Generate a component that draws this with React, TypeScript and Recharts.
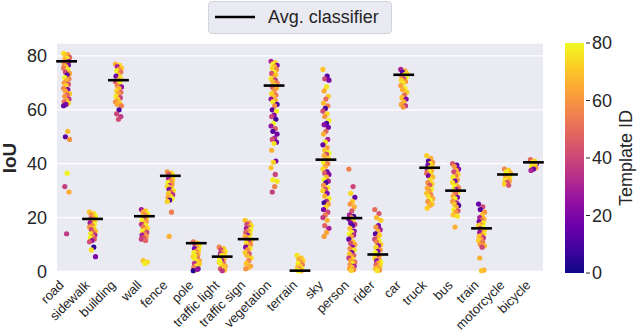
import React from 'react';
import { ScatterChart, Scatter, XAxis, YAxis, CartesianGrid, Legend } from 'recharts';

const FONT = '"Liberation Sans", Arial, Helvetica, sans-serif';
const TEXT = '#262626';

const categories = ['road', 'sidewalk', 'building', 'wall', 'fence', 'pole', 'traffic light', 'traffic sign', 'vegetation', 'terrain', 'sky', 'person', 'rider', 'car', 'truck', 'bus', 'train', 'motorcycle', 'bicycle'];
const avgClassifier = [78, 19.5, 71, 20.5, 35.5, 10.5, 5.5, 12, 69, 0.3, 41.5, 19.8, 6.3, 73, 38.5, 30, 16, 36, 40.5];
const yTicks = [0, 20, 40, 60, 80];
const colorbarTicks = [0, 20, 40, 60, 80];

// [IoU, template ID]
const road = [[81,75],[80.5,62],[80,70],[79.5,48],[79,78],[78.5,66],[78,30],[77.5,72],[77,58],[76.5,18],[76,69],[75.5,52],[75,77],[74,40],[73.5,64],[73,12],[72,80],[71.5,55],[71,67],[70,61],[69.5,44],[69,73],[68,57],[67.5,20],[67,63],[66,70],[65.5,46],[65,59],[64,35],[63.5,66],[63,50],[62.5,74],[62,22],[61.5,15],[52,68],[50,14],[49,60],[36.5,79],[31.5,38],[29.5,65],[14,36]];
const sidewalk = [[22,70],[21.5,76],[21,58],[20.5,79],[20,64],[19.5,45],[19,73],[18.5,67],[18,28],[17.5,78],[17,55],[16.5,62],[16,74],[15.5,40],[15,69],[14.5,50],[14,77],[13.5,33],[13,60],[12.5,80],[12,47],[11.5,25],[11,42],[9,5],[8,76],[5.5,20]];
const building = [[77,66],[76.5,74],[76,30],[75.5,71],[75,60],[74.5,78],[74,52],[73,69],[72.5,16],[72,75],[71,62],[70.5,44],[70,79],[69,57],[68.5,24],[68,67],[67,73],[66.5,50],[66,63],[65,77],[64.5,38],[64,70],[63,59],[62.5,72],[62,65],[61.5,55],[60,10],[58.5,40],[57.5,36],[56.5,42]];
const wall = [[23,28],[22.5,72],[22,64],[21.5,78],[21,55],[20.5,68],[20,75],[19.5,46],[19,80],[18.5,60],[18,70],[17.5,35],[17,77],[16.5,52],[16,74],[15.5,66],[15,79],[14.5,40],[14,58],[13.5,30],[13,62],[12.5,45],[12,38],[11.5,48],[4,70],[3.5,74],[3,78]];
const fence = [[37,60],[36.5,74],[36,45],[35.5,78],[35,66],[34.5,30],[34,71],[33.5,56],[33,79],[32.5,62],[32,40],[31.5,75],[31,68],[30.5,20],[30,77],[29.5,50],[29,70],[28.5,35],[28,72],[27.5,64],[27,80],[26.5,12],[26,73],[22,54],[13,66]];
const pole = [[11,52],[10.5,70],[10,40],[9.5,77],[9,62],[8.5,18],[8,74],[7.5,58],[7,79],[6.5,66],[6,30],[5.5,72],[5,48],[4.5,78],[4,64],[3.5,75],[3,35],[2.5,69],[2,80],[1.5,56],[1,10],[0.5,73],[0.3,4],[0.8,25],[6,76],[3,71]];
const trafficLight = [[9,55],[8.5,70],[8,40],[7.5,77],[7,64],[6.5,30],[6,74],[5.5,58],[5,79],[4.5,66],[4,22],[3.5,72],[3,50],[2.5,78],[2,62],[1.5,75],[1,45],[0.5,68],[0.3,35],[4,80],[2,70],[6,76]];
const trafficSign = [[19,70],[18,62],[17.5,40],[17,75],[16.5,55],[16,30],[15.5,78],[15,60],[14.5,48],[14,73],[13.5,25],[13,66],[12.5,79],[12,52],[11.5,70],[11,36],[10.5,76],[10,58],[9.5,64],[9,20],[8.5,77],[8,60],[7,72],[6.5,45],[6,68],[5,74],[4,56],[3,70],[2,64],[1.5,66],[1,60]];
const vegetation = [[78,30],[77.5,72],[77,78],[76.5,20],[76,66],[75.5,74],[75,58],[74,79],[73.5,44],[73,70],[72,62],[71.5,76],[71,35],[70.5,68],[70,55],[69,73],[68.5,48],[68,65],[67,60],[66,74],[65.5,52],[65,70],[64,25],[63.5,64],[63,77],[62,10],[61.5,58],[60,14],[59.5,78],[58,22],[57.5,40],[56.5,8],[55,80],[54,26],[53,45],[52,12],[51,18],[49.5,30],[49,42],[48,16],[47.5,76],[45,66],[41,20],[40.5,72],[38.5,70],[36,40],[34,78],[33.5,76],[31.5,55],[29.5,38]];
const terrain = [[6,76],[5,70],[4.5,66],[4,74],[3.5,60],[3,78],[2.5,55],[2,72],[1.5,68],[1,79],[0.8,50],[0.5,75],[0.3,64],[0.2,80]];
const sky = [[75,70],[72.5,12],[71.5,40],[71,20],[68.5,76],[67,66],[65,72],[64,50],[62.5,68],[61.5,56],[60.5,10],[59.5,42],[58.5,74],[57.5,60],[56,78],[55,8],[54.5,24],[53.5,18],[52,48],[51,66],[49,30],[48,76],[47,14],[46,62],[45,70],[44,80],[43.5,40],[43,66],[42,72],[41,20],[40.5,78],[40,55],[39,64],[38,74],[37,16],[36.5,45],[36,22],[35,68],[34,80],[33.5,30],[33,10],[32,60],[31,76],[30.5,40],[30,72],[29,20],[28,66],[27,78],[26,30],[25.5,8],[25,62],[24,74],[23,20],[22,40],[21,54],[20,36],[19,66],[17,48],[16,28],[14.5,64],[13,62]];
const person = [[38,55],[31.5,40],[29,74],[27.5,14],[26,70],[25,60],[24,66],[22.5,45],[21,30],[20.5,8],[20,62],[19.5,20],[19,74],[18,18],[17.5,40],[17,12],[16,68],[15,25],[14.5,78],[14,80],[13.5,30],[13,66],[12,16],[11,72],[10.5,42],[10,64],[9,24],[8.5,58],[8,76],[7,20],[6.5,70],[6,46],[5.5,66],[5,36],[4.5,74],[4,62],[3.5,52],[3,78],[2.5,60],[2,32],[1.5,70],[1,64],[0.7,58],[0.4,72]];
const rider = [[23,50],[21.5,44],[20,68],[19,72],[17,18],[16.5,60],[15.5,30],[15,66],[14,12],[13.5,72],[12.5,64],[12,40],[11.5,78],[11,56],[10,70],[9.5,24],[9,74],[8,60],[7.5,20],[7,80],[6,66],[5.5,40],[5,75],[4.5,62],[4,28],[3.5,78],[3,68],[2.5,50],[2,74],[1.5,64],[1,70],[0.5,60],[0.3,76]];
const car = [[75,30],[74.5,66],[74,12],[73.5,72],[73,78],[72.5,56],[72,80],[71.5,40],[71,74],[70.5,60],[70,76],[69,62],[68,78],[67.5,66],[66.5,72],[65.5,50],[64.5,70],[64,22],[63,68],[62,64],[61.5,36],[61,60]];
const truck = [[43,72],[42,66],[41,12],[40.5,60],[40,76],[39.5,18],[39,70],[38.5,78],[38,30],[37.5,64],[37,80],[36.5,52],[36,74],[35.5,20],[35,68],[34,76],[33,58],[32.5,72],[32,44],[31,66],[30.5,78],[30,62],[29,70],[28.5,56],[28,74],[27,64],[26.5,80],[26,60],[25,70],[24.5,66],[23.5,72]];
const bus = [[40,45],[39.5,14],[39,60],[38,22],[37.5,66],[37,40],[36,72],[35.5,54],[35,78],[34,62],[33.5,18],[33,74],[32,68],[31.5,80],[31,56],[30.5,28],[30,70],[29.5,76],[29,50],[28,64],[27.5,20],[27,78],[26,60],[25.5,34],[25,72],[24.5,10],[24,66],[23,79],[22.5,44],[22,62],[21,70],[20.5,76],[16.5,66]];
const train = [[25,16],[24,40],[23,12],[22,60],[21,70],[20,30],[19.5,66],[19,52],[18.5,20],[18,78],[17.5,62],[17,72],[16.5,80],[16,44],[15.5,74],[15,66],[14.5,26],[14,76],[13.5,58],[13,70],[12.5,34],[12,64],[11.5,72],[11,54],[10,60],[9.5,68],[9,40],[5,66],[0.5,66],[0.3,70]];
const motorcycle = [[38,56],[37.5,72],[37,78],[36.5,66],[36,80],[35.5,60],[35,74],[34.5,70],[34,76],[33.5,64],[33,40],[32.5,72],[32,44]];
const bicycle = [[41.5,50],[41,72],[40.5,78],[40,20],[39.5,66],[39,76],[38.5,60],[38,14],[37.5,30],[40,74]];

const groups = [road, sidewalk, building, wall, fence, pole, trafficLight, trafficSign, vegetation, terrain, sky, person, rider, car, truck, bus, train, motorcycle, bicycle];

const pointData = groups.flatMap((g, ci) => g.map(([iou, t], j) => ({ x: ci, y: iou, t, j })));
const avgData = avgClassifier.map((v, i) => ({ x: i, y: v }));

const PLASMA = ['#0d0887', '#41049d', '#6a00a8', '#8f0da4', '#b12a90', '#cc4778', '#e16462', '#f2844b', '#fca636', '#fcce25', '#f0f921'];
function hexToRgb(h: string) {
  return [parseInt(h.slice(1, 3), 16), parseInt(h.slice(3, 5), 16), parseInt(h.slice(5, 7), 16)];
}
function plasma(v: number) {
  const s = Math.max(0, Math.min(1, v / 80)) * 10;
  const i = Math.min(9, Math.floor(s));
  const f = s - i;
  const a = hexToRgb(PLASMA[i]);
  const b = hexToRgb(PLASMA[i + 1]);
  const c = a.map((av, k) => Math.round(av + (b[k] - av) * f));
  return `rgb(${c[0]},${c[1]},${c[2]})`;
}

const jitter = (j: number) => (((j * 7) % 11) / 10 - 0.5) * 6;

const StripDot = (props: any) => {
  const { cx, cy, payload } = props;
  if (cx == null || cy == null) return null;
  return <circle cx={cx + jitter(payload.j)} cy={cy} r={2.6} fill={plasma(payload.t)} />;
};

const AvgMark = (props: any) => {
  const { cx, cy } = props;
  if (cx == null || cy == null) return null;
  return <line x1={cx - 10.4} x2={cx + 10.4} y1={cy} y2={cy} stroke="#000" strokeWidth={2.6} />;
};

const XTick = (props: any) => {
  const { x, y, payload } = props;
  return (
    <text
      transform={`translate(${x - 2},${y + 6}) rotate(-45)`}
      textAnchor="end"
      fontFamily={FONT}
      fontSize={13}
      fill={TEXT}
    >
      {categories[payload.value]}
    </text>
  );
};

const YLabel = () => (
  <text x={16} y={158} transform="rotate(-90,16,158)" textAnchor="middle" fontFamily={FONT} fontSize={19} fontWeight="bold" fill={TEXT}>
    IoU
  </text>
);

const LegendBox = () => (
  <div
    style={{
      boxSizing: 'border-box',
      width: 184,
      height: 33,
      border: '1px solid #d3d3da',
      borderRadius: 4,
      background: '#EAEAF2',
      display: 'flex',
      alignItems: 'center',
      fontFamily: FONT,
      fontSize: 18,
      color: TEXT,
    }}
  >
    <svg width={59} height={31} style={{ flex: 'none' }}>
      <line x1={6} x2={46} y1={15} y2={15} stroke="#000" strokeWidth={2.6} />
    </svg>
    <span style={{ whiteSpace: 'nowrap' }}>Avg. classifier</span>
  </div>
);

const Colorbar = () => {
  const x = 565;
  const top = 43;
  const h = 230;
  const w = 19;
  return (
    <svg width={640} height={331} style={{ position: 'absolute', left: 0, top: 0, pointerEvents: 'none' }}>
      <defs>
        <linearGradient id="plasmaGrad" x1="0" y1="1" x2="0" y2="0">
          {PLASMA.map((c, i) => (
            <stop key={i} offset={`${i * 10}%`} stopColor={c} />
          ))}
        </linearGradient>
      </defs>
      <rect x={x} y={top} width={w} height={h} fill="url(#plasmaGrad)" />
      {colorbarTicks.map((v) => {
        const yy = top + h - (v / 80) * h;
        return (
          <g key={v}>
            <line x1={x + w + 2} x2={x + w + 6} y1={yy} y2={yy} stroke={TEXT} strokeWidth={1} />
            <text x={x + w + 8} y={yy} dominantBaseline="central" fontFamily={FONT} fontSize={18} fill={TEXT}>
              {v}
            </text>
          </g>
        );
      })}
      <text x={632} y={158} transform="rotate(-90,632,158)" textAnchor="middle" fontFamily={FONT} fontSize={18} fill={TEXT}>
        Template ID
      </text>
    </svg>
  );
};

export default function App() {
  return (
    <div style={{ position: 'absolute', left: 0, top: 0, width: 640, height: 331, background: '#fff' }}>
      <ScatterChart width={640} height={331} margin={{ top: 43, right: 97, bottom: 0, left: 0 }}>
        <CartesianGrid vertical={false} stroke="#ffffff" strokeWidth={1.3} fill="#EAEAF2" />
        <XAxis
          type="number"
          dataKey="x"
          domain={[-0.37, 18.37]}
          ticks={categories.map((_, i) => i)}
          interval={0}
          tickLine={false}
          axisLine={false}
          height={59}
          tick={<XTick />}
        />
        <YAxis
          type="number"
          dataKey="y"
          domain={[-0.2, 84.8]}
          ticks={yTicks}
          width={57}
          tickLine={false}
          axisLine={false}
          tickMargin={4}
          tick={{ fontFamily: FONT, fontSize: 18, fill: TEXT }}
          label={<YLabel />}
        />
        <Legend
          verticalAlign="middle"
          align="center"
          layout="horizontal"
          wrapperStyle={{ top: 1, left: 208, width: 184, height: 33 }}
          content={<LegendBox />}
        />
        <Scatter name="points" data={pointData} shape={<StripDot />} isAnimationActive={false} legendType="none" />
        <Scatter name="Avg. classifier" data={avgData} shape={<AvgMark />} isAnimationActive={false} />
      </ScatterChart>
      <Colorbar />
    </div>
  );
}
